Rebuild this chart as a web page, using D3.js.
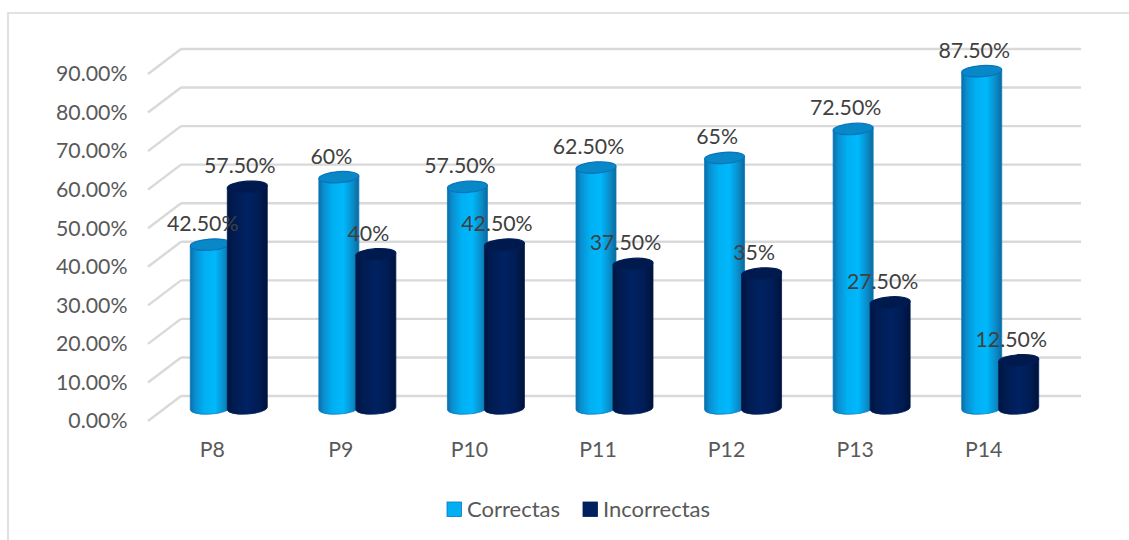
<!DOCTYPE html>
<html>
<head>
  <meta charset="utf-8">
  <script src="https://cdnjs.cloudflare.com/ajax/libs/d3/7.8.5/d3.min.js"></script>
  <style>
  *{
    margin: 0;
    padding: 0;
  }
  body{
    background: #fff;
    overflow: hidden;
  }
  text{
    font-family: Lato, sans-serif;
  }
  .axis path{
    stroke: none;
  }
  .axis text{
    font-size: 21.3px;
    fill: #595959;
  }
  .grid line, .frame{
    stroke: #d9d9d9;
    fill: none;
  }
  .grid line{
    stroke-width: 2.4;
  }
  .frame{
    stroke-width: 1.6;
  }
  .value{
    font-size: 21.3px;
    fill: #404040;
    text-anchor: middle;
  }
  .legend text{
    font-size: 22px;
    fill: #595959;
  }
  </style>
</head>
<body>
  <svg id="chart" width="1129" height="540"></svg>
  <script>
  let categories = ['P8', 'P9', 'P10', 'P11', 'P12', 'P13', 'P14'];
  let seriesNames = ['Correctas', 'Incorrectas'];
  let correctas = [42.5, 60, 57.5, 62.5, 65, 72.5, 87.5];
  let incorrectas = [57.5, 40, 42.5, 37.5, 35, 27.5, 12.5];
  let correctasLabels = ['42.50%', '60%', '57.50%', '62.50%', '65%', '72.50%', '87.50%'];
  let incorrectasLabels = ['57.50%', '40%', '42.50%', '37.50%', '35%', '27.50%', '12.50%'];
  let tickValues = [0, 10, 20, 30, 40, 50, 60, 70, 80, 90];

  let svg = d3.select('#chart');

  // fake 3d: the back wall sits up and to the right of the front plane
  let depthX = 33, depthY = -25;
  let frontLeft = 148, wallRight = 1081;
  let frontY = d3.scaleLinear().domain([0, 90]).range([421, 74]);
  let barY = d3.scaleLinear().domain([0, 90]).range([408.5, 61.5]);
  let xBand = d3.scaleBand().domain(categories).range([164.5, 1064.5]);
  let barWidth = 40, barStep = 37, rx = barWidth / 2, ry = 5.6, tilt = 1.3;

  // cylinder shading
  let defs = svg.append('defs');
  let shades = [
    {id: 'shade0', stops: [[0, '#0a6ea6'], [0.12, '#0a8ed0'], [0.35, '#00b0f2'], [0.62, '#00b8fc'], [0.85, '#0a8cc8'], [1, '#0a6a9c']]},
    {id: 'shade1', stops: [[0, '#001540'], [0.15, '#001b50'], [0.5, '#002262'], [0.8, '#001c54'], [1, '#001238']]}
  ];
  shades.forEach(function(s){
    let g = defs.append('linearGradient').attr('id', s.id);
    s.stops.forEach(function(st){
      g.append('stop').attr('offset', st[0]).attr('stop-color', st[1]);
    });
  });

  // only the top and left edges of the chart border are in view
  svg.append('path')
    .attr('class', 'frame')
    .attr('d', 'M8,540V13H1129');

  // gridlines: diagonal on the floor side, then along the back wall
  let grid = svg.append('g').attr('class', 'grid');
  grid.selectAll('.diag')
    .data(tickValues)
    .enter().append('line')
    .attr('class', 'diag')
    .attr('x1', frontLeft)
    .attr('y1', function(d){ return frontY(d); })
    .attr('x2', frontLeft + depthX)
    .attr('y2', function(d){ return frontY(d) + depthY; });
  grid.selectAll('.wall')
    .data(tickValues)
    .enter().append('line')
    .attr('class', 'wall')
    .attr('x1', frontLeft + depthX)
    .attr('y1', function(d){ return frontY(d) + depthY; })
    .attr('x2', wallRight)
    .attr('y2', function(d){ return frontY(d) + depthY; });

  let yAxis = d3.axisLeft(frontY)
    .tickValues(tickValues)
    .tickSize(0)
    .tickPadding(0)
    .tickFormat(function(d){ return d3.format('.2f')(d) + '%'; });
  svg.append('g')
    .attr('class', 'axis')
    .attr('transform', 'translate(127.5, 0)')
    .call(yAxis);

  let xAxis = d3.axisBottom(xBand).tickSize(0).tickPadding(0);
  svg.append('g')
    .attr('class', 'axis')
    .attr('transform', 'translate(-16.5, 441.5)')
    .call(xAxis);

  function cylinder(cx, top, base){
    let l = cx - rx, r = cx + rx;
    return 'M' + l + ',' + (top + tilt) +
      'L' + l + ',' + (base + tilt) +
      'A' + rx + ',' + ry + ' -4 0 0 ' + r + ',' + (base - tilt) +
      'L' + r + ',' + (top - tilt) + 'Z';
  }

  let series = [
    {values: correctas, labels: correctasLabels, shift: -barStep / 2, top: '#0888c6', edge: '#0a72c0', side: '#0a78bc'},
    {values: incorrectas, labels: incorrectasLabels, shift: barStep / 2, top: '#001a4e', edge: '#001d56', side: '#001d56'}
  ];

  let bars = svg.append('g');
  categories.forEach(function(cat, i){
    series.forEach(function(s, k){
      let cx = xBand(cat) + xBand.bandwidth() / 2 + s.shift;
      let g = bars.append('g');
      g.append('path')
        .attr('d', cylinder(cx, barY(s.values[i]), barY(0)))
        .attr('fill', 'url(#shade' + k + ')')
        .attr('stroke', s.side)
        .attr('stroke-width', 0.8);
      g.append('ellipse')
        .attr('cx', cx)
        .attr('cy', barY(s.values[i]))
        .attr('rx', rx)
        .attr('ry', ry)
        .attr('transform', 'rotate(-4 ' + cx + ' ' + barY(s.values[i]) + ')')
        .attr('fill', s.top)
        .attr('stroke', s.edge)
        .attr('stroke-width', 1.2);
    });
  });

  // value labels go on last, they overlap the neighbouring bars
  let labels = svg.append('g');
  categories.forEach(function(cat, i){
    series.forEach(function(s){
      labels.append('text')
        .attr('class', 'value')
        .attr('x', xBand(cat) + xBand.bandwidth() / 2 + s.shift - 7.5)
        .attr('y', barY(s.values[i]) - 21)
        .attr('dy', '0.35em')
        .text(s.labels[i]);
    });
  });

  let legendX = d3.scaleOrdinal().domain(seriesNames).range([447, 583]);
  let legend = svg.append('g').attr('class', 'legend');
  seriesNames.forEach(function(name, k){
    legend.append('rect')
      .attr('x', legendX(name))
      .attr('y', 502)
      .attr('width', 14.5)
      .attr('height', 14.5)
      .attr('fill', k == 0 ? '#00b0f0' : '#002060')
      .attr('stroke', k == 0 ? '#0a78c4' : '#001d56')
      .attr('stroke-width', 0.8);
    legend.append('text')
      .attr('x', legendX(name) + 20)
      .attr('y', 509)
      .attr('dy', '0.35em')
      .text(name);
  });
  </script>
</body>
</html>
